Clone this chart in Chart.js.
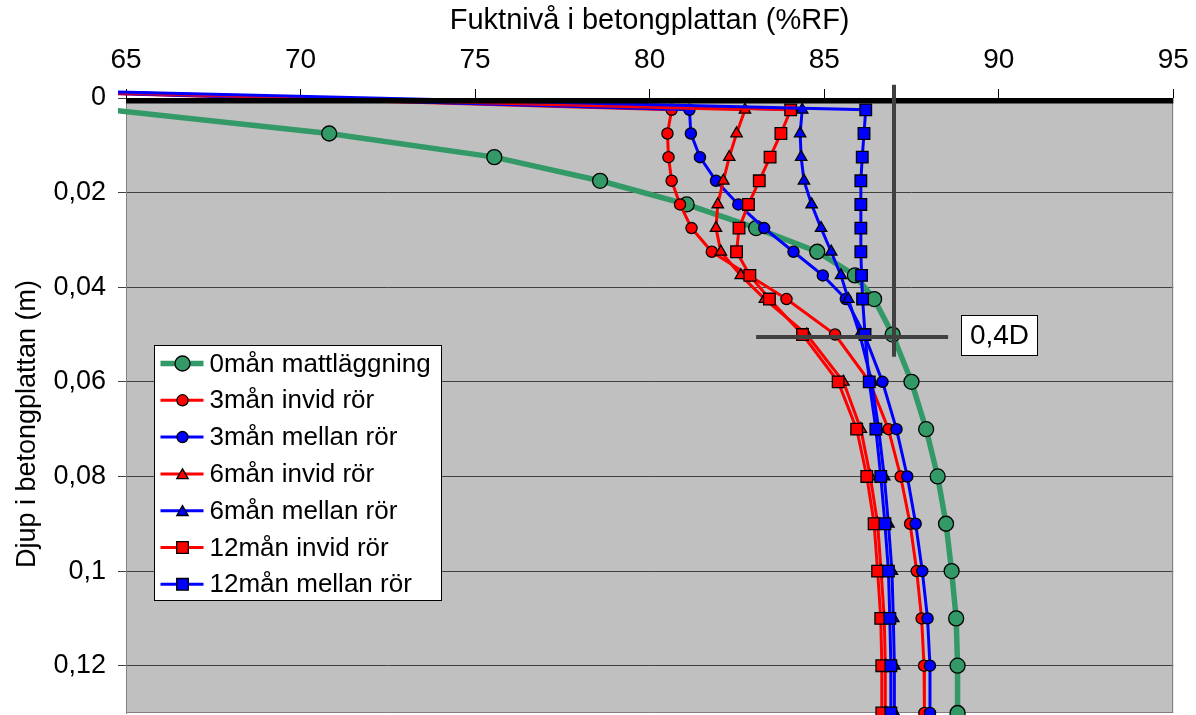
<!DOCTYPE html>
<html><head><meta charset="utf-8">
<script src="https://cdn.jsdelivr.net/npm/chart.js@4/dist/chart.umd.min.js"></script>
<style>html,body{margin:0;padding:0;background:#fff;}canvas{display:block;}</style>
</head><body>
<canvas id="c" width="1196" height="715"></canvas>
<script>
// ---- data ----
const depths = [0.0025,0.0075,0.0125,0.0175,0.0225,0.0275,0.0325,0.0375,0.0425,0.05,0.06,0.07,0.08,0.09,0.10,0.11,0.12,0.13];
const seriesNames = ['0mån mattläggning','3mån invid rör','3mån mellan rör','6mån invid rör','6mån mellan rör','12mån invid rör','12mån mellan rör'];
const rf0Matt    = [64.5,70.82,75.55,78.58,81.06,83.05,84.80,85.88,86.43,86.96,87.50,87.92,88.25,88.49,88.65,88.78,88.82,88.82];
const rf3Invid   = [80.63,80.51,80.54,80.63,80.87,81.20,81.78,82.85,83.92,85.31,86.30,86.84,87.19,87.46,87.65,87.79,87.86,87.87];
const rf3Mellan  = [81.14,81.18,81.44,81.90,82.54,83.28,84.12,84.96,85.62,86.15,86.67,87.07,87.38,87.62,87.81,87.96,88.03,88.03];
const rf6Invid   = [82.73,82.49,82.28,82.11,81.95,81.90,82.04,82.61,83.30,84.50,85.55,86.05,86.32,86.53,86.63,86.72,86.75,86.75];
const rf6Mellan  = [84.37,84.31,84.34,84.42,84.64,84.91,85.20,85.48,85.69,86.02,86.36,86.56,86.72,86.84,86.94,86.98,87.01,87.01];
const rf12Invid  = [84.04,83.76,83.45,83.14,82.83,82.56,82.49,82.87,83.43,84.38,85.40,85.93,86.22,86.43,86.53,86.62,86.65,86.65];
const rf12Mellan = [86.19,86.14,86.09,86.05,86.05,86.05,86.05,86.07,86.10,86.17,86.29,86.48,86.62,86.74,86.84,86.88,86.91,86.91];
const leadInRF = 55, leadInDepth = -0.003;          // off-chart start point of the measured series
const surfaceRF = [65, 95], surfaceDepth = [0, 0];   // slab surface line
const markVertRF = [87, 87], markVertDepth = [-0.0028, 0.0547];
const markHorRF = [83.05, 88.55], markHorDepth = [0.0505, 0.0505];
const noteText = '0,4D', noteRF = 88.92, noteDepth = 0.0502;
const xTickValues = [65,70,75,80,85,90,95];
const xTickLabels = ['65','70','75','80','85','90','95'];
const yTickValues = [0,0.02,0.04,0.06,0.08,0.10,0.12];
const yTickLabels = ['0','0,02','0,04','0,06','0,08','0,1','0,12'];
const xTitle = 'Fuktnivå i betongplattan (%RF)';
const yTitle = 'Djup i betongplattan (m)';

function labelFor(values, labels, v) {
  const i = values.findIndex(t => Math.abs(t - v) < 1e-9);
  return i < 0 ? '' : labels[i];
}

// ---- styles ----
const FONT = 'Arial, "Liberation Sans", sans-serif';
Chart.defaults.font.family = FONT;
Chart.defaults.color = '#000';
const colors = ['#339966','#FF0000','#0000FF','#FF0000','#0000FF','#FF0000','#0000FF'];
const styles = ['circle','circle','circle','triangle','triangle','rect','rect'];
const radii = [7.5,5.6,5.6,6.6,6.6,8.2,8.2];
const widths = [5.5,3,3,3,3,3,3];
const seriesValues = [rf0Matt, rf3Invid, rf3Mellan, rf6Invid, rf6Mellan, rf12Invid, rf12Mellan];

const datasets = seriesValues.map((vals, i) => {
  const pts = depths.map((d, j) => ({x: vals[j], y: d}));
  const lead = i > 0;
  if (lead) pts.unshift({x: leadInRF, y: leadInDepth});
  return {
    label: seriesNames[i], showLine: true, data: pts,
    borderColor: colors[i], borderWidth: widths[i], backgroundColor: colors[i],
    pointBackgroundColor: colors[i], pointBorderColor: '#000', pointBorderWidth: 1.3,
    pointStyle: styles[i],
    pointRadius: ctx => (lead && ctx.dataIndex === 0) ? 0 : radii[i],
    legendRadius: radii[i],
    tension: 0, order: 20 - i, isSeries: true,
    clip: {left: 8, top: 10, right: 0, bottom: 10}
  };
});
datasets.push({
  label: '', showLine: true, data: surfaceRF.map((x, j) => ({x, y: surfaceDepth[j]})),
  borderColor: '#000', borderWidth: 11, pointRadius: 0, borderCapStyle: 'butt', order: 2,
  clip: {left: 0, top: 0, right: 3, bottom: 0}
});
datasets.push({
  label: '', showLine: true, data: markVertRF.map((x, j) => ({x, y: markVertDepth[j]})),
  borderColor: '#404040', borderWidth: 4, pointRadius: 0, borderCapStyle: 'butt', order: 1,
  clip: {left: 0, top: 16, right: 0, bottom: 0}
});
datasets.push({
  label: '', showLine: true, data: markHorRF.map((x, j) => ({x, y: markHorDepth[j]})),
  borderColor: '#404040', borderWidth: 4, pointRadius: 0, borderCapStyle: 'butt', order: 1,
  clip: {left: 0, top: 0, right: 0, bottom: 0}
});

const plotPlugin = {
  id: 'plotDeco',
  beforeDraw(chart) {
    const {ctx, chartArea: a} = chart;
    ctx.save();
    ctx.fillStyle = '#C0C0C0';
    ctx.fillRect(a.left, a.top, a.right - a.left, a.bottom - a.top);
    ctx.restore();
  },
  beforeDatasetsDraw(chart) {
    const {ctx, chartArea: a} = chart;
    ctx.save();
    ctx.strokeStyle = '#808080'; ctx.lineWidth = 1;
    ctx.beginPath();
    ctx.moveTo(Math.round(a.right) - 0.5, a.top); ctx.lineTo(Math.round(a.right) - 0.5, a.bottom);
    ctx.moveTo(a.left, Math.round(a.bottom) - 0.5); ctx.lineTo(a.right, Math.round(a.bottom) - 0.5);
    ctx.stroke();
    ctx.restore();
  },
  afterDatasetsDraw(chart) {
    const {ctx, chartArea: a, scales} = chart;
    ctx.save();
    // legend box
    const left = Math.round(a.left + 28) + 0.5, top = Math.round(a.top + 247) + 0.5, w = 287, h = 255;
    ctx.fillStyle = '#fff'; ctx.fillRect(left, top, w, h);
    ctx.strokeStyle = '#000'; ctx.lineWidth = 1; ctx.strokeRect(left, top, w, h);
    let row = 0;
    chart.data.datasets.forEach(ds => {
      if (!ds.isSeries) return;
      const y = top + 18 + row * 36.8;
      ctx.strokeStyle = ds.borderColor; ctx.lineWidth = ds.borderWidth; ctx.lineCap = 'butt';
      ctx.beginPath(); ctx.moveTo(left + 6, y); ctx.lineTo(left + 49, y); ctx.stroke();
      ctx.fillStyle = ds.pointBackgroundColor; ctx.strokeStyle = '#000'; ctx.lineWidth = ds.pointBorderWidth;
      Chart.helpers.drawPoint(ctx, {pointStyle: ds.pointStyle, radius: ds.legendRadius, rotation: 0, borderWidth: ds.pointBorderWidth}, left + 28, y + (ds.pointStyle === 'triangle' ? 1.5 : 0));
      ctx.fillStyle = '#000'; ctx.font = '26px ' + FONT; ctx.textAlign = 'left'; ctx.textBaseline = 'middle';
      ctx.fillText(ds.label, left + 55, y + 1);
      row++;
    });
    // note box
    const nx = scales.x.getPixelForValue(noteRF), ny = scales.y.getPixelForValue(noteDepth);
    ctx.font = '28px ' + FONT;
    const tw = ctx.measureText(noteText).width;
    const bw = Math.round(tw + 17), bh = 40;
    const bx = Math.round(nx) + 0.5, by = Math.round(ny - bh / 2) + 0.5;
    ctx.fillStyle = '#fff'; ctx.fillRect(bx, by, bw, bh);
    ctx.strokeStyle = '#000'; ctx.lineWidth = 1; ctx.strokeRect(bx, by, bw, bh);
    ctx.fillStyle = '#000'; ctx.textAlign = 'center'; ctx.textBaseline = 'middle';
    ctx.fillText(noteText, bx + bw / 2, by + bh / 2 + 1);
    ctx.restore();
  },
  afterDraw(chart) {
    const {ctx} = chart;
    ctx.save();
    ctx.translate(28, 424);
    ctx.rotate(-Math.PI / 2);
    ctx.font = '27px ' + FONT; ctx.fillStyle = '#000';
    ctx.textAlign = 'center'; ctx.textBaseline = 'middle';
    ctx.fillText(yTitle, 0, 0);
    ctx.restore();
  }
};

new Chart(document.getElementById('c'), {
  type: 'scatter',
  data: {datasets},
  options: {
    responsive: false, animation: false, devicePixelRatio: 1,
    layout: {autoPadding: false, padding: {left: 0, top: 0, right: 22.7, bottom: 2}},
    plugins: {legend: {display: false}, tooltip: {enabled: false}},
    scales: {
      x: {
        type: 'linear', position: 'top', min: 65, max: 95,
        ticks: {stepSize: 5, font: {size: 28}, color: '#000', padding: 12, maxRotation: 0,
                callback: v => labelFor(xTickValues, xTickLabels, v)},
        grid: {drawOnChartArea: false, drawTicks: true, tickLength: 9, tickColor: '#000', tickWidth: 1},
        border: {display: false},
        title: {display: true, text: xTitle, font: {size: 29}, color: '#000', padding: {top: 4, bottom: 0}},
        afterFit: s => { s.height = 98; s.paddingLeft = 0; s.paddingRight = 0; }
      },
      y: {
        type: 'linear', position: 'left', reverse: true, min: 0, max: 0.13,
        ticks: {stepSize: 0.02, includeBounds: false, font: {size: 27}, color: '#000', padding: 12,
                callback: v => labelFor(yTickValues, yTickLabels, v)},
        grid: {color: c => (c.tick && c.tick.value === 0) ? 'rgba(0,0,0,0)' : '#404040',
               lineWidth: 1, tickLength: 8, tickColor: '#404040', drawTicks: true},
        border: {display: true, color: '#808080', width: 1},
        afterFit: s => { s.width = 126; s.paddingTop = 0; s.paddingBottom = 0; }
      }
    }
  },
  plugins: [plotPlugin]
});
</script>
</body></html>
